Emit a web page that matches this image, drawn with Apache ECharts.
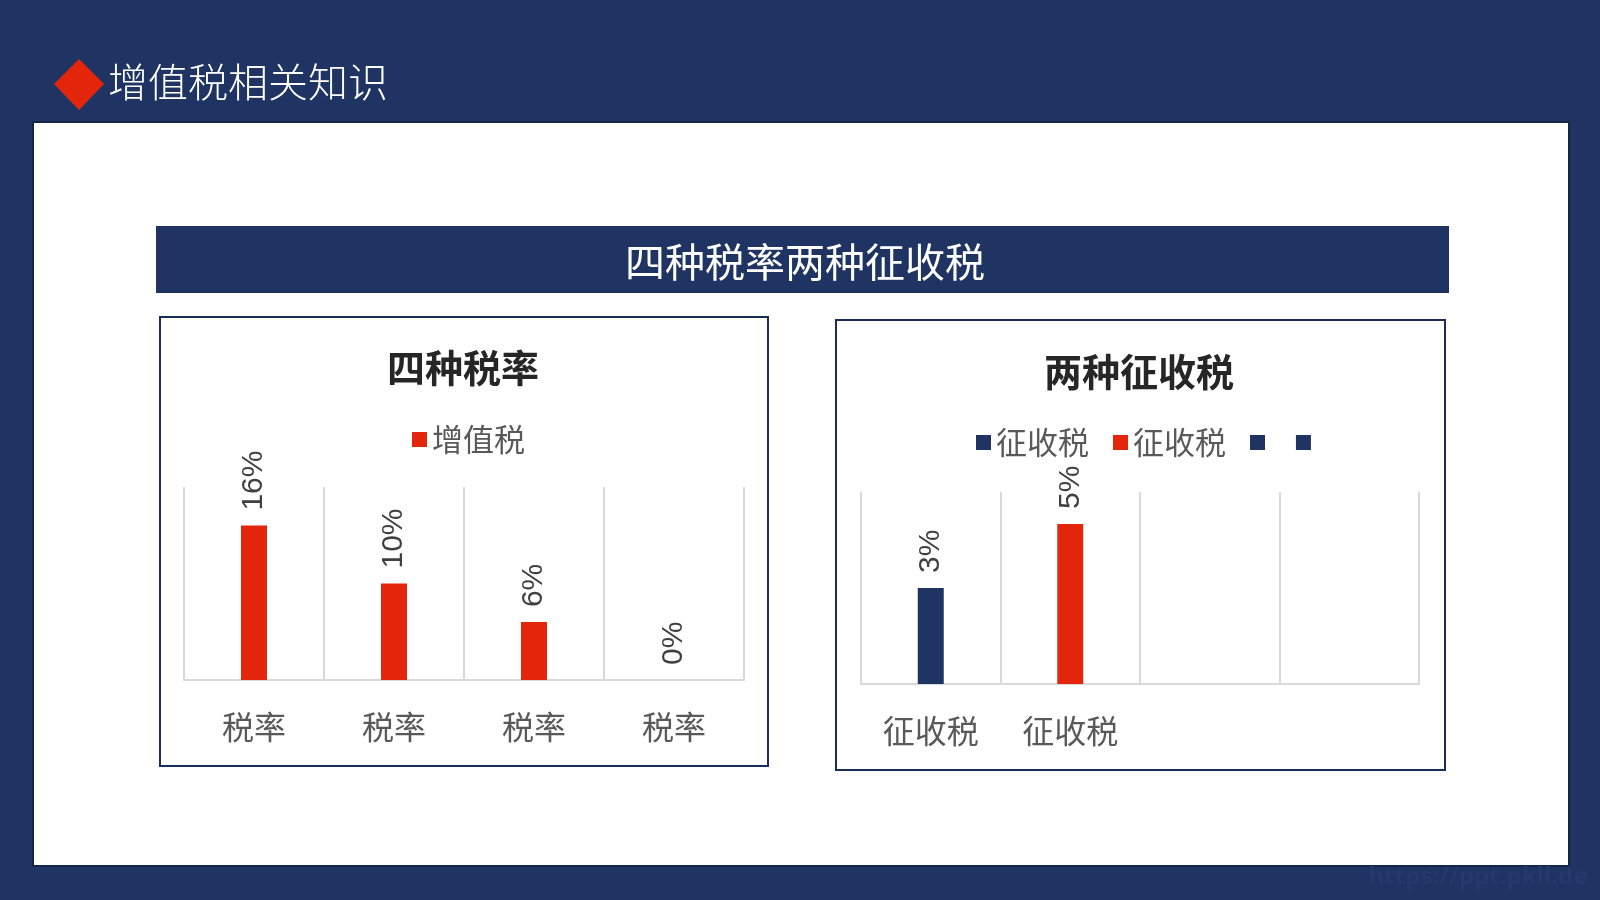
<!DOCTYPE html>
<html>
<head>
<meta charset="utf-8">
<title>增值税相关知识</title>
<script src="https://cdn.jsdelivr.net/npm/echarts@6/dist/echarts.min.js"></script>
<style>
    html, body { margin: 0; padding: 0; background: #1F3462; }
    #main { width: 1600px; height: 900px; }
</style>
</head>
<body>
<div id="main"></div>
<script>
// 四种税率
var rateCategories = ['税率', '税率', '税率', '税率'];
var rateValues = [16, 10, 6, 0];
var rateSeriesName = '增值税';
var rateMax = 20;

// 两种征收税 (one series per category, Excel "vary colors by point")
var levyCategories = ['征收税', '征收税', '', ''];
var levyLegend = ['征收税', '征收税', '\u200a', '\u200a'];
var levyValues = [3, 5, null, null];
var levyMax = 6;

var NAVY = '#1F3462';
var RED = '#E3260B';
var levyColors = [NAVY, RED, NAVY, NAVY];
var CJK = 'Noto Sans CJK SC';

var labelStyle = {
    show: true,
    position: 'top',
    distance: 15,
    rotate: 90,
    align: 'left',
    verticalAlign: 'middle',
    formatter: '{c}%',
    fontFamily: 'Liberation Sans',
    fontSize: 30,
    color: '#404040'
};

function xAxisOf(cats, grid) {
    return {
        type: 'category',
        gridIndex: grid,
        data: cats,
        axisLine: {lineStyle: {color: '#D9D9D9', width: 2}},
        axisTick: {show: false},
        splitLine: {show: true, lineStyle: {color: '#D9D9D9', width: 2}},
        axisLabel: {fontFamily: CJK, fontSize: 32, color: '#595959', margin: 31}
    };
}
function yAxisOf(max, grid) {
    return {
        type: 'value', gridIndex: grid, min: 0, max: max, show: false,
        splitLine: {show: false}
    };
}

var levySeries = [];
for (var i = 0; i < levyValues.length; i++) {
    var d = levyValues.map(function () { return '-'; });
    if (levyValues[i] !== null) d[i] = levyValues[i];
    levySeries.push({
        name: 'k' + i,
        type: 'bar',
        xAxisIndex: 1,
        yAxisIndex: 1,
        stack: 'levy',
        barWidth: 26,
        itemStyle: {color: levyColors[i]},
        label: labelStyle,
        data: d
    });
}

var option = {
    animation: false,
    backgroundColor: NAVY,
    graphic: [
        {type: 'rect', shape: {x: 33, y: 122, width: 1536, height: 744},
            style: {fill: '#FFFFFF', stroke: '#14254A', lineWidth: 2}},
        {type: 'polygon', shape: {points: [[79, 59], [104, 84], [79, 110], [54, 84]]},
            style: {fill: RED}},
        {type: 'text', left: 108, top: 62,
            style: {text: '增值税相关知识', fill: '#FFFFFF', fontFamily: CJK, fontSize: 40, fontWeight: 300}},
        {type: 'rect', shape: {x: 156, y: 226, width: 1293, height: 67},
            style: {fill: NAVY}},
        {type: 'text', x: 805, y: 262,
            style: {text: '四种税率两种征收税', fill: '#FFFFFF', fontFamily: CJK, fontSize: 40,
                align: 'center', verticalAlign: 'middle'}},
        {type: 'rect', shape: {x: 160, y: 317, width: 608, height: 449},
            style: {fill: 'none', stroke: '#1A2D58', lineWidth: 2}},
        {type: 'rect', shape: {x: 836, y: 320, width: 609, height: 450},
            style: {fill: 'none', stroke: '#1A2D58', lineWidth: 2}},
        {type: 'text', x: 1478, y: 877,
            style: {text: 'https://ppt.pkll.de', fill: '#27396A', fontFamily: 'Open Sans',
                fontSize: 24, fontWeight: 'bold', align: 'center', verticalAlign: 'middle'}}
    ],
    title: [
        {text: '四种税率', left: 458, top: 344, textAlign: 'center',
            textStyle: {fontFamily: CJK, fontSize: 38, fontWeight: 'bold', color: '#262626'}},
        {text: '两种征收税', left: 1134, top: 348, textAlign: 'center',
            textStyle: {fontFamily: CJK, fontSize: 38, fontWeight: 'bold', color: '#262626'}}
    ],
    legend: [
        {data: [rateSeriesName], left: 407, top: 419, icon: 'rect', itemWidth: 15, itemHeight: 15,
            textStyle: {fontFamily: CJK, fontSize: 31, color: '#595959'}},
        {data: ['k0', 'k1', 'k2', 'k3'], left: 971, top: 422, icon: 'rect',
            itemWidth: 15, itemHeight: 15, itemGap: 24,
            formatter: function (name) { return levyLegend[+name.slice(1)]; },
            textStyle: {fontFamily: CJK, fontSize: 31, color: '#595959'}}
    ],
    grid: [
        {left: 184, top: 487, width: 560, height: 193},
        {left: 861, top: 492, width: 558, height: 192}
    ],
    xAxis: [xAxisOf(rateCategories, 0), xAxisOf(levyCategories, 1)],
    yAxis: [yAxisOf(rateMax, 0), yAxisOf(levyMax, 1)],
    series: [
        {
            name: rateSeriesName,
            type: 'bar',
            barWidth: 26,
            itemStyle: {color: RED},
            label: labelStyle,
            data: rateValues
        }
    ].concat(levySeries)
};

var chart = echarts.init(document.getElementById('main'));
chart.setOption(option);
</script>
</body>
</html>
